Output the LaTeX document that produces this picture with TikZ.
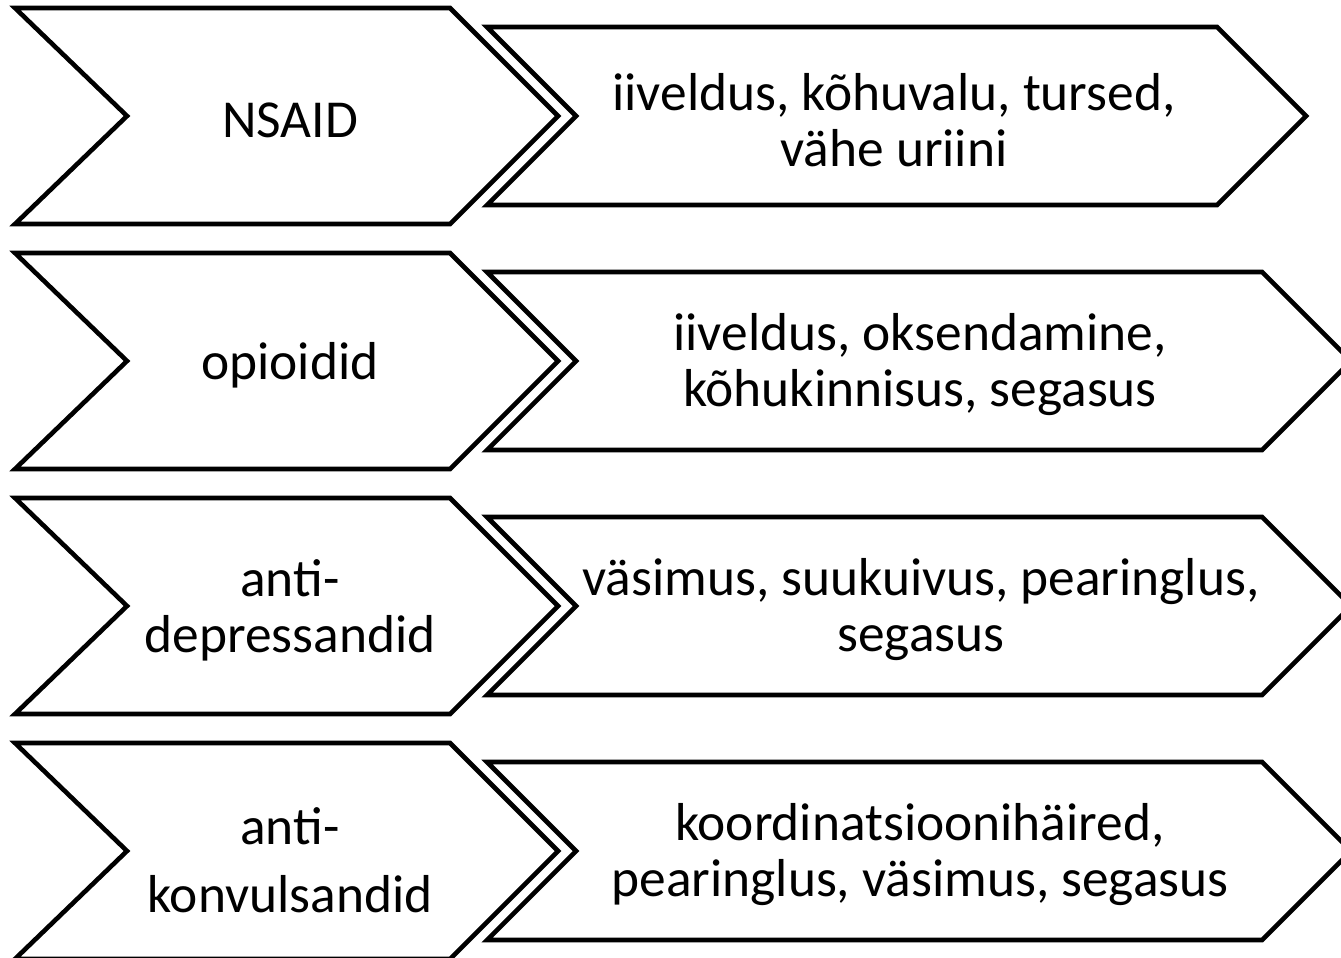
\documentclass[tikz,border=0pt]{standalone}
\usepackage{fontspec}
\setmainfont{Carlito}
\usetikzlibrary{positioning}

\begin{document}
\begin{tikzpicture}[x=0.5pt, y=-0.5pt, line width=2.3pt, line join=miter,
    silt/.style={align=center, inner sep=0pt, font=\fontsize{26.7}{28}\selectfont}]
    \useasboundingbox (0,0) rectangle (1341,958);
    \clip (0,0) rectangle (1341,958);

    % Rida 1: NSAID
    \draw (15,8) -- (450,8) -- (558,116) -- (450,224) -- (15,224) -- (127,116) -- cycle;
    \draw (487,27) -- (1217,27) -- (1306,116) -- (1217,205) -- (487,205) -- (576,116) -- cycle;
    \node[silt] (nsaid) at (290,120) {NSAID};
    \node[silt] (mojud1) at (894,120) {iiveldus, kõhuvalu, tursed,\\ vähe uriini};

    % Rida 2: opioidid
    \draw (15,253) -- (450,253) -- (558,361) -- (450,469) -- (15,469) -- (127,361) -- cycle;
    \draw (487,272) -- (1262,272) -- (1351,361) -- (1262,450) -- (487,450) -- (576,361) -- cycle;
    \node[silt] (opioid) at (290,365) {opioidid};
    \node[silt] (mojud2) at (920,365) {iiveldus, oksendamine,\\ kõhukinnisus, segasus};

    % Rida 3: antidepressandid
    \draw (15,498) -- (450,498) -- (558,606) -- (450,714) -- (15,714) -- (127,606) -- cycle;
    \draw (487,517) -- (1262,517) -- (1351,606) -- (1262,695) -- (487,695) -- (576,606) -- cycle;
    \node[silt] (antidep) at (290,610) {anti-\\ depressandid};
    \node[silt] (mojud3) at (921,610) {väsimus, suukuivus, pearinglus,\\ segasus};

    % Rida 4: antikonvulsandid
    \draw (15,743) -- (450,743) -- (558,851) -- (450,959) -- (15,959) -- (127,851) -- cycle;
    \draw (487,762) -- (1262,762) -- (1351,851) -- (1262,940) -- (487,940) -- (576,851) -- cycle;
    \node[silt] (antikonv) at (290,860) {anti-\\[6pt] konvulsandid};
    \node[silt] (mojud4) at (920,855) {koordinatsioonihäired,\\ pearinglus, väsimus, segasus};
\end{tikzpicture}
\end{document}
